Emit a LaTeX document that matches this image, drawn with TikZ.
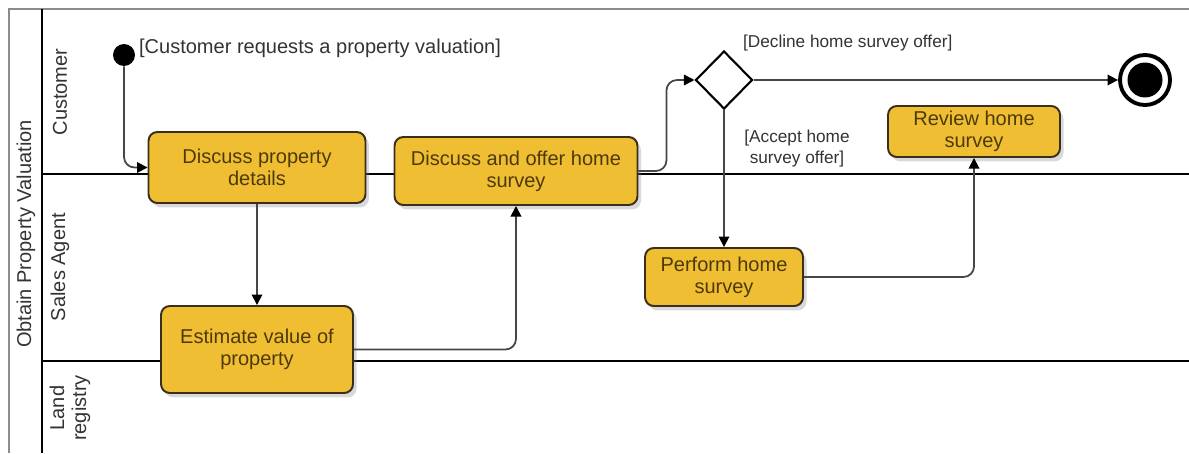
\documentclass[tikz,border=0pt]{standalone}
\usepackage{fontspec}
\setmainfont{Liberation Sans}
\usepackage{tikz}
\usetikzlibrary{positioning,shapes.geometric,arrows.meta,shadows}
\definecolor{actfill}{RGB}{240,190,50}
\definecolor{actdraw}{RGB}{58,47,26}
\definecolor{acttext}{RGB}{77,58,10}
\definecolor{framegray}{RGB}{140,140,140}
\definecolor{flowgray}{RGB}{70,70,70}

\begin{document}
\begin{tikzpicture}[x=0.02cm,y=-0.02cm,>={Triangle[length=6pt,width=6pt,color=black]},
   activity/.style={rectangle,rounded corners=5pt,draw=actdraw,line width=1.1pt,fill=actfill,text=acttext,align=center,inner sep=2pt,font=\fontsize{11.4}{12.6}\selectfont,drop shadow={opacity=0.3,shadow xshift=2pt,shadow yshift=-2.5pt}},
   guard/.style={font=\fontsize{9.8}{12}\selectfont,text=black!80,inner sep=1pt,align=center},
   lanelabel/.style={rotate=90,font=\fontsize{11.4}{12.6}\selectfont,text=black!80,align=center},
   flow/.style={->,draw=flowgray,line width=1pt,rounded corners=6pt}]
   \useasboundingbox (0,0) rectangle (1189,453);
   \draw[framegray,line width=1.1pt] (9,453) -- (9,9) -- (1189,9);
   \draw[line width=0.8pt] (42,9) -- (42,453) (42,174) -- (1189,174) (42,361) -- (1189,361);

   \node[lanelabel] (l_all) at (26,234) {Obtain Property Valuation};
   \node[lanelabel] (l_cust) at (60,92) {Customer};
   \node[lanelabel] (l_agent) at (60,267) {Sales Agent};
   \node[lanelabel] (l_land) at (70,408) {Land\\registry};

   \node[circle,fill,minimum size=0.44cm,inner sep=0] (init) at (124,55) {};
   \node[guard,font=\fontsize{11.4}{12.6}\selectfont,anchor=west] (g_req) at (137,48) {[Customer requests a property valuation]};
   \node[activity,minimum width=4.34cm,minimum height=1.42cm] (disc) at (257,167.5) {Discuss property\\details};
   \node[activity,minimum width=4.86cm,minimum height=1.36cm] (offer) at (516,171) {Discuss and offer home\\survey};
   \node[activity,minimum width=3.84cm,minimum height=1.74cm] (est) at (257,349.5) {Estimate value of\\property};
   \node[diamond,draw,line width=1.2pt,fill=white,minimum width=1.14cm,minimum height=1.16cm,inner sep=0] (dec) at (724,80) {};
   \node[activity,minimum width=3.16cm,minimum height=1.16cm] (perf) at (724,277) {Perform home\\survey};
   \node[activity,minimum width=3.44cm,minimum height=1.02cm] (rev) at (974,131.5) {Review home\\survey};
   \node[circle,draw,line width=2.2pt,minimum size=1.0cm,path picture={\fill (path picture bounding box.center) circle (0.35cm);}] (fin) at (1145,80) {};
   \node[guard,anchor=west] (g_dec) at (741,43) {[Decline home survey offer]};
   \node[guard] (g_acc) at (797,149) {[Accept home\\survey offer]};

   \draw[flow] (init) |- (disc);
   \draw[flow] (est) -| (offer);
   \draw[flow] (offer.east) -- ++(28,0) |- (dec);
   \draw[flow] (perf) -| (rev);
   \path (disc) edge[flow] (est)
         (dec) edge[flow] (fin)
               edge[flow] (perf);
\end{tikzpicture}
\end{document}
